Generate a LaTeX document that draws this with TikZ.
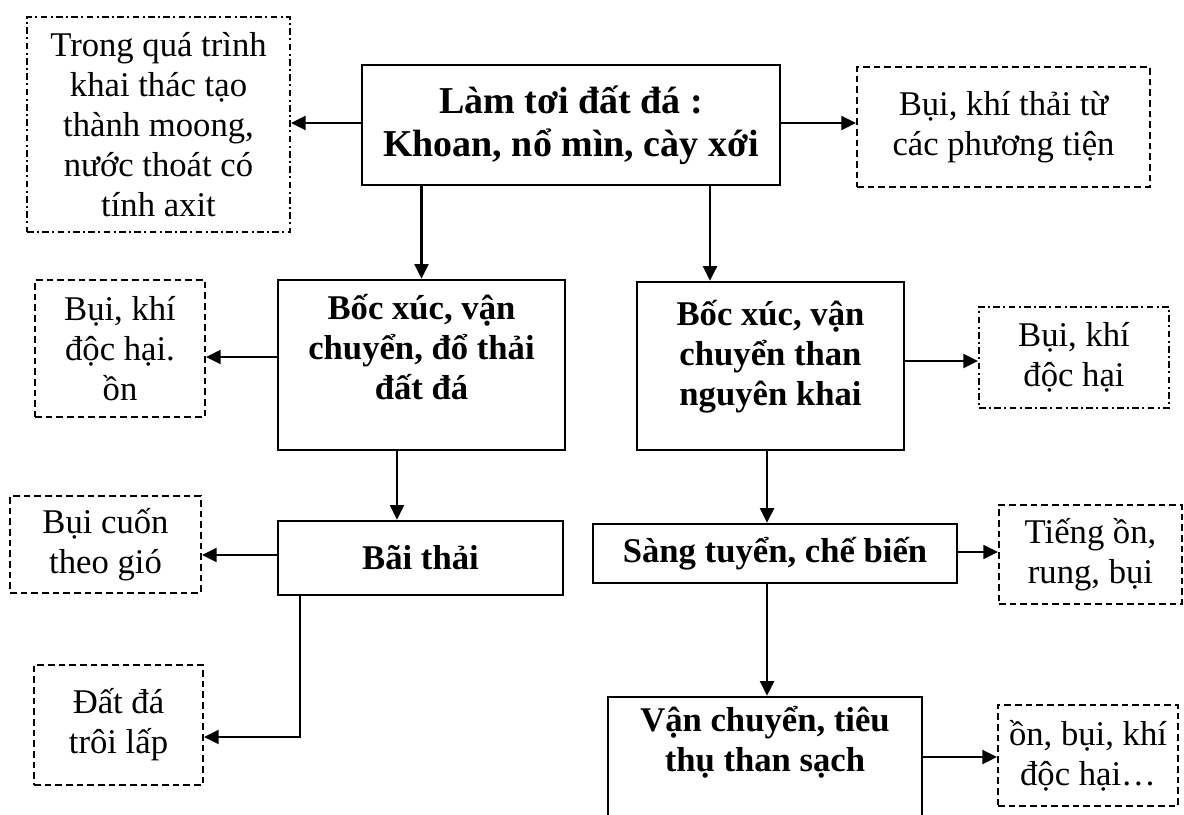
\documentclass[tikz,border=0pt]{standalone}
\usepackage{fontspec}
\setmainfont{Liberation Serif}
\usetikzlibrary{arrows.meta,calc}
\tikzset{
  txt/.style={font=\fontsize{26}{30}\selectfont, align=center, inner sep=0pt},
  btxt/.style={font=\fontsize{26}{30}\selectfont\bfseries, align=center, inner sep=0pt},
  solidbox/.style={btxt, draw, line width=1.8pt},
  dashbox/.style={txt, draw, line width=1.5pt, dash pattern=on 5pt off 3pt},
  dotbox/.style={txt, draw, line width=1.5pt, dash pattern=on 5pt off 2.5pt on 1.5pt off 2.5pt},
  arr/.style={line width=1.6pt, -{Triangle[length=11pt,width=10.5pt]}},
}
\begin{document}
\begin{tikzpicture}[x=0.75pt,y=-0.75pt]
\useasboundingbox (0,0) rectangle (1184,814);
\clip (0,0) rectangle (1184,814);

% main process boxes
\node[solidbox, minimum width=313.5pt, minimum height=90pt,
      font=\fontsize{28.5}{32}\selectfont\bfseries] (main) at (571,125)
  {Làm tơi đất đá :\\Khoan, nổ mìn, cày xới};
\node[solidbox, minimum width=215.25pt, minimum height=127.5pt] (lm) at (421.5,365) {};
\node[btxt] (lmT) at (421.5,347) {Bốc xúc, vận\\chuyển, đổ thải\\đất đá};
\node[solidbox, minimum width=200.25pt, minimum height=126pt] (rm) at (770.5,366) {};
\node[btxt] (rmT) at (770.5,357) {Bốc xúc, vận\\chuyển than\\nguyên khai};
\node[solidbox, minimum width=213.75pt, minimum height=55.5pt] (bt) at (420.5,558) {Bãi thải};
\node[solidbox, minimum width=273pt, minimum height=44.25pt] (st) at (775,553.5) {Sàng tuyển, chế biến};
\node[solidbox, minimum width=235.5pt, minimum height=99.75pt] (vc) at (765,763.5) {};
\node[btxt] (vcT) at (765,742) {Vận chuyển, tiêu\\thụ than sạch};

% impact boxes
\node[dotbox, minimum width=197.25pt, minimum height=161.25pt] (tl) at (158.5,124.5)
  {Trong quá trình\\khai thác tạo\\thành moong,\\nước thoát có\\tính axit};
\node[dashbox, minimum width=219.75pt, minimum height=90pt] (tr) at (1003.5,127)
  {Bụi, khí thải từ\\các phương tiện};
\node[dashbox, minimum width=127.5pt, minimum height=102.75pt] (ld) at (120,348.5)
  {Bụi, khí\\độc hại.\\ồn};
\node[dotbox, minimum width=142.5pt, minimum height=75.75pt] (rd) at (1074,357.5)
  {Bụi, khí\\độc hại};
\node[dashbox, minimum width=143.25pt, minimum height=72.75pt] (bc) at (105.5,544.5)
  {Bụi cuốn\\theo gió};
\node[dashbox, minimum width=126.75pt, minimum height=90pt] (dd) at (118.5,725)
  {Đất đá\\trôi lấp};
\node[dashbox, minimum width=137.25pt, minimum height=74.25pt] (to) at (1090.5,554.5)
  {Tiếng ồn,\\rung, bụi};
\node[dashbox, minimum width=135pt, minimum height=75.75pt] (ob) at (1088,755.5)
  {ồn, bụi, khí\\độc hại…};

% connectors
\draw[arr] (main.west |- 0,123) -- (tl.east |- 0,123);
\draw[arr] (main.east |- 0,123) -- (tr.west |- 0,123);
\draw[arr] (main.south -| lm.north) -- (lm.north);
\draw[arr] (main.south -| 710,0) -- (rm.north -| 710,0);
\draw[arr] (lm.west |- 0,357) -- (ld.east |- 0,357);
\draw[arr] (rm.east |- 0,361) -- (rd.west |- 0,361);
\draw[arr] (lm.south -| 397,0) -- (bt.north -| 397,0);
\draw[arr] (bt.west |- 0,555) -- (bc.east |- 0,555);
\draw[arr] (bt.south -| 300,0) |- (dd.east |- 0,737);
\draw[arr] (rm.south -| 767,0) -- (st.north -| 767,0);
\draw[arr] (st.east |- 0,552) -- (to.west |- 0,552);
\draw[arr] (st.south -| 767,0) -- (vc.north -| 767,0);
\draw[arr] (vc.east |- 0,757) -- (ob.west |- 0,757);
\end{tikzpicture}
\end{document}
